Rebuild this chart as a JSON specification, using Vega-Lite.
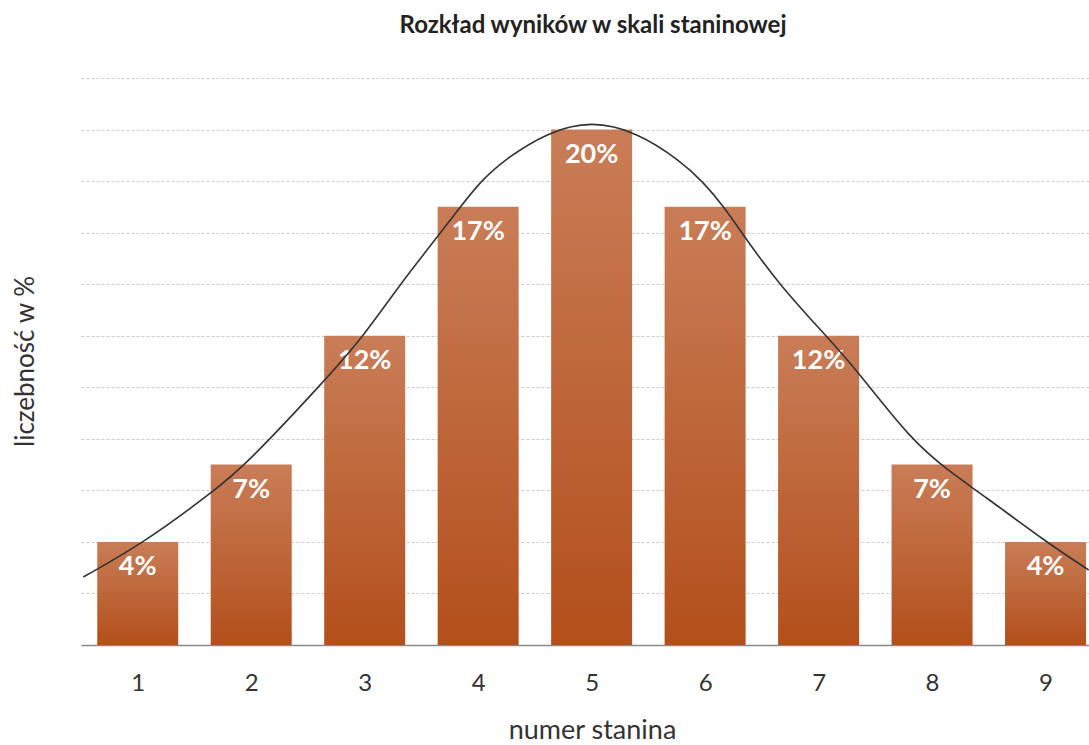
{
  "$schema": "https://vega.github.io/schema/vega-lite/v6.json",
  "autosize": {"type": "none"},
  "width": 1008,
  "height": 567,
  "padding": {"left": 81, "top": 78, "right": 0, "bottom": 100},
  "background": "white",
  "config": {
    "font": "Lato",
    "view": {"stroke": null}
  },
  "title": {
    "text": "Rozkład wyników w skali staninowej",
    "font": "Lato",
    "fontSize": 24,
    "fontWeight": "bold",
    "color": "#222222",
    "anchor": "middle",
    "dx": 8,
    "offset": 40
  },
  "datasets": {
    "bars": [
      {"stanin": 1, "pct": 4, "label": "4%"},
      {"stanin": 2, "pct": 7, "label": "7%"},
      {"stanin": 3, "pct": 12, "label": "12%"},
      {"stanin": 4, "pct": 17, "label": "17%"},
      {"stanin": 5, "pct": 20, "label": "20%"},
      {"stanin": 6, "pct": 17, "label": "17%"},
      {"stanin": 7, "pct": 12, "label": "12%"},
      {"stanin": 8, "pct": 7, "label": "7%"},
      {"stanin": 9, "pct": 4, "label": "4%"}
    ],
    "curve": [
      {"pos": 0.52, "val": 2.64},
      {"pos": 1.05, "val": 3.95},
      {"pos": 1.67, "val": 5.97},
      {"pos": 1.95, "val": 6.98},
      {"pos": 2.65, "val": 10.27},
      {"pos": 2.99, "val": 11.98},
      {"pos": 3.31, "val": 13.99},
      {"pos": 3.67, "val": 16.0},
      {"pos": 3.84, "val": 16.98},
      {"pos": 4.02, "val": 17.98},
      {"pos": 4.22, "val": 18.8},
      {"pos": 4.61, "val": 19.9},
      {"pos": 5.0, "val": 20.35},
      {"pos": 5.4, "val": 19.9},
      {"pos": 5.78, "val": 18.8},
      {"pos": 5.98, "val": 17.98},
      {"pos": 6.17, "val": 16.98},
      {"pos": 6.32, "val": 16.0},
      {"pos": 6.65, "val": 13.99},
      {"pos": 7.07, "val": 11.98},
      {"pos": 7.36, "val": 10.54},
      {"pos": 7.81, "val": 7.98},
      {"pos": 8.16, "val": 6.7},
      {"pos": 8.44, "val": 5.85},
      {"pos": 9.02, "val": 3.95},
      {"pos": 9.38, "val": 2.91}
    ]
  },
  "layer": [
    {
      "data": {"name": "bars"},
      "mark": {
        "type": "bar",
        "width": 81,
        "color": {
          "gradient": "linear",
          "x1": 0, "y1": 0, "x2": 0, "y2": 1,
          "stops": [
            {"offset": 0, "color": "#c97d57"},
            {"offset": 1, "color": "#b34f1b"}
          ]
        }
      },
      "encoding": {
        "x": {
          "field": "stanin",
          "type": "quantitative",
          "scale": {"domain": [0.5, 9.383], "nice": false, "zero": false, "padding": 0},
          "axis": {
            "values": [1, 2, 3, 4, 5, 6, 7, 8, 9],
            "format": "d",
            "ticks": false,
            "grid": false,
            "domain": true,
            "domainColor": "#8a8a8a",
            "domainWidth": 1.5,
            "labelFontSize": 24,
            "labelColor": "#333333",
            "labelPadding": 26,
            "title": "numer stanina",
            "titleFontSize": 27,
            "titleFontWeight": "normal",
            "titleColor": "#333333",
            "titleX": 511,
            "titleY": 93,
            "titleAnchor": "middle",
            "titleAlign": "center",
            "titleBaseline": "alphabetic"
          }
        },
        "y": {
          "field": "pct",
          "type": "quantitative",
          "scale": {"domain": [0, 22], "nice": false},
          "axis": {
            "values": [2, 4, 6, 8, 10, 12, 14, 16, 18, 20, 22],
            "labels": false,
            "ticks": false,
            "domain": false,
            "grid": true,
            "gridColor": "#cbcbcb",
            "gridDash": [3, 2],
            "gridWidth": 1,
            "title": "liczebność w %",
            "titleFontSize": 26,
            "titleFontWeight": "normal",
            "titleColor": "#333333",
            "titleX": -56,
            "titleY": 283,
            "titleAlign": "center",
            "titleBaseline": "middle"
          }
        }
      }
    },
    {
      "data": {"name": "bars"},
      "mark": {
        "type": "text",
        "color": "white",
        "fontWeight": "bold",
        "fontSize": 27,
        "baseline": "middle",
        "align": "center",
        "dy": 25
      },
      "encoding": {
        "x": {"field": "stanin", "type": "quantitative"},
        "y": {"field": "pct", "type": "quantitative"},
        "text": {"field": "label"}
      }
    },
    {
      "data": {"name": "curve"},
      "mark": {
        "type": "line",
        "interpolate": "basis",
        "color": "#333333",
        "strokeWidth": 1.6,
        "clip": true
      },
      "encoding": {
        "x": {"field": "pos", "type": "quantitative"},
        "y": {"field": "val", "type": "quantitative"}
      }
    }
  ]
}
